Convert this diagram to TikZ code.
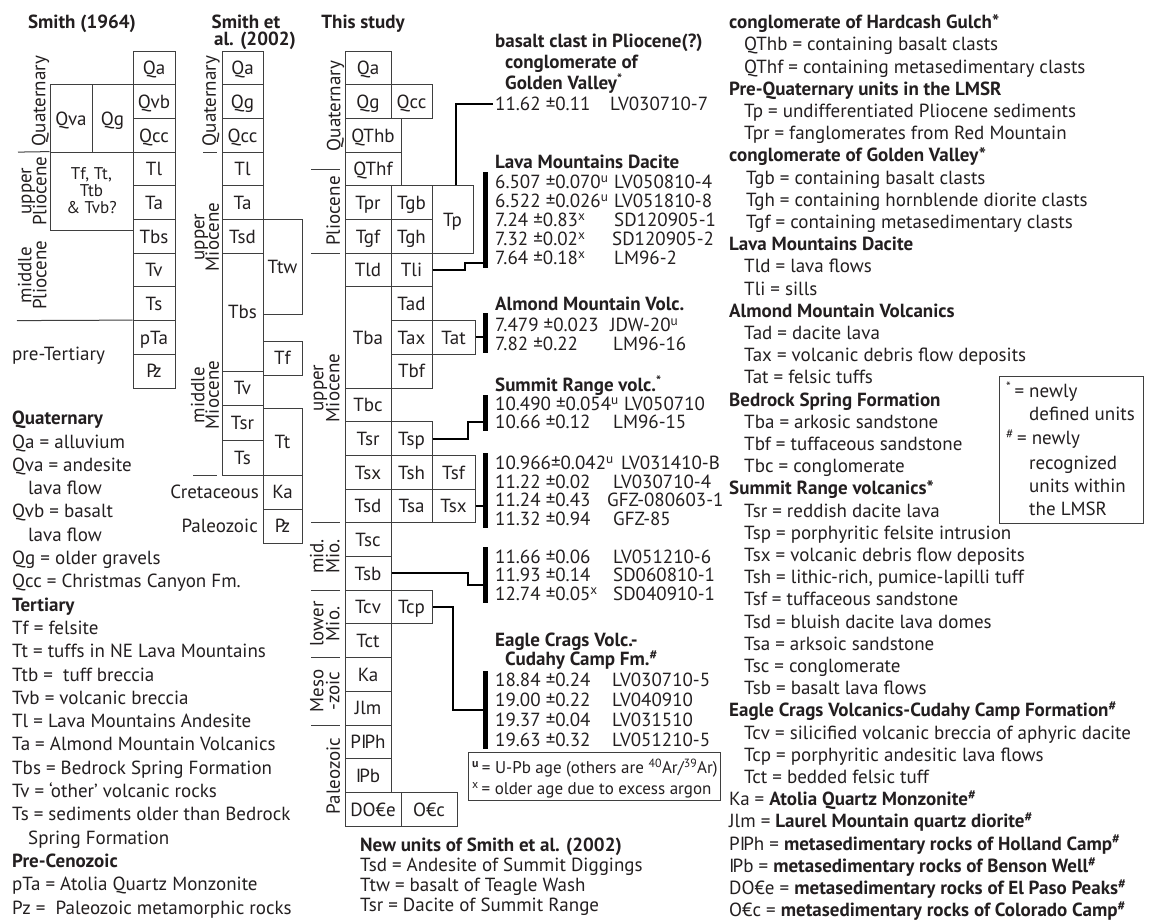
\documentclass[tikz,border=0pt]{standalone}
\usepackage{fontspec}
\setmainfont{PT Sans}
\usetikzlibrary{calc}
\definecolor{ink}{HTML}{231F20}
\definecolor{boxline}{HTML}{3F3F3F}
\newcommand{\penn}{I\kern-0.11em P}
\newcommand{\pzsym}{P\kern-0.2em z}
\newcommand{\su}[1]{\textsuperscript{#1}}
\begin{document}
\begin{tikzpicture}[x=1pt,y=-1pt,
  every node/.style={text=ink},
  fnt/.style={font=\fontsize{19}{20}\selectfont},
  cell/.style={fnt, draw=boxline, line width=1pt, inner sep=0pt, minimum height=33.7pt, text height=13.5pt, text depth=0pt},
  txt/.style={fnt, anchor=west, inner sep=0pt, text height=13.5pt, text depth=0pt},
  btxt/.style={txt, font=\fontsize{19}{20}\selectfont\bfseries},
  stxt/.style={txt, font=\fontsize{17}{18}\selectfont},
  ctxt/.style={fnt, anchor=center, inner sep=0pt, text height=13.5pt, text depth=0pt},
  sctxt/.style={anchor=center, inner sep=0pt, font=\fontsize{17}{18}\selectfont, text height=12pt, text depth=0pt},
  bctxt/.style={ctxt, font=\fontsize{19}{20}\selectfont\bfseries},
  rtxt/.style={ctxt, rotate=90},
  conn/.style={draw=black, line width=2pt},
  agebar/.style={fill=black, inner sep=0pt, minimum width=5pt},
  ln/.style={draw=boxline, line width=1pt},
  frame/.style={draw=boxline, line width=1pt, inner sep=0pt}
]
\fill[white] (0,0) rectangle (1164,921);
\useasboundingbox (0,0) rectangle (1164,921);

% ---------------- titles
\node[bctxt] (t64) at (82,22) {Smith (1964)};
\node[bctxt] (t02a) at (246,22) {Smith et};
\node[bctxt] (t02b) at (255,39) {al. (2002)};
\node[bctxt] (tts) at (363,22) {This study};

% ---------------- Smith (1964)
\node[cell, minimum width=42pt] (s64Qa)  at (154,67.85) {Qa};
\node[cell, minimum width=42pt] (s64Qvb) at (154,101.55) {Qvb};
\node[cell, minimum width=42pt] (s64Qcc) at (154,135.25) {Qcc};
\node[cell, minimum width=42pt] (s64Tl)  at (154,168.95) {Tl};
\node[cell, minimum width=42pt] (s64Ta)  at (154,202.65) {Ta};
\node[cell, minimum width=42pt] (s64Tbs) at (154,236.35) {Tbs};
\node[cell, minimum width=42pt] (s64Tv)  at (154,270.05) {Tv};
\node[cell, minimum width=42pt] (s64Ts)  at (154,303.75) {Ts};
\node[cell, minimum width=42pt] (s64pTa) at (154,337.45) {pTa};
\node[cell, minimum width=42pt] (s64Pz)  at (154,371.15) {\pzsym};
\node[cell, minimum width=42pt, minimum height=67.4pt] (s64Qva) at (71,118.4) {Qva};
\node[cell, minimum width=41pt, minimum height=67.4pt] (s64Qg) at (112.5,118.4) {Qg};
\node[cell, minimum width=83pt, minimum height=77.9pt] (s64Tf) at (91.5,191.05) {};
\node[sctxt] (s64Tf1) at (91.5,173) {Tf, Tt,};
\node[sctxt] (s64Tf2) at (91.5,190) {Ttb};
\node[sctxt] (s64Tf3) at (91.5,207) {\& Tvb?};
\draw[ln] (18,152.1) -- (s64Tf.north west);
\draw[ln] (17,320.6) -- (s64pTa.north west);
\node[rtxt] (e64q) at (38.5,101) {Quaternary};
\node[rtxt] (e64u1) at (24.5,191) {upper};
\node[rtxt] (e64u2) at (39.5,191) {Pliocene};
\node[rtxt] (e64m1) at (24.5,275) {middle};
\node[rtxt] (e64m2) at (39.5,275) {Pliocene};
\node[txt] (s64pre) at (12,354) {pre-Tertiary};

% ---------------- Smith et al. (2002)
\node[cell, minimum width=41pt] (saQa)  at (242.5,67.85) {Qa};
\node[cell, minimum width=41pt] (saQg)  at (242.5,101.55) {Qg};
\node[cell, minimum width=41pt] (saQcc) at (242.5,135.25) {Qcc};
\node[cell, minimum width=41pt] (saTl)  at (242.5,168.95) {Tl};
\node[cell, minimum width=41pt] (saTa)  at (242.5,202.65) {Ta};
\node[cell, minimum width=41pt] (saTsd) at (242.5,236.35) {Tsd};
\node[cell, minimum width=41pt, minimum height=117.8pt] (saTbs) at (242.5,312.1) {Tbs};
\node[cell, minimum width=41pt, minimum height=34pt] (saTv)  at (242.5,388) {Tv};
\node[cell, minimum width=41pt, minimum height=35pt] (saTsr) at (242.5,422.5) {Tsr};
\node[cell, minimum width=41pt, minimum height=35pt] (saTs)  at (242.5,457.5) {Ts};
\node[cell, minimum width=39pt, minimum height=94.5pt] (saTtw) at (282.5,266.75) {Ttw};
\node[cell, minimum width=39pt, minimum height=34pt] (saTf) at (282.5,358) {Tf};
\node[cell, minimum width=39pt, minimum height=67pt] (saTt) at (282.5,441.5) {Tt};
\node[cell, minimum width=39pt, minimum height=34pt] (saKa) at (282.5,492) {Ka};
\node[cell, minimum width=39pt, minimum height=34pt] (saPz) at (282.5,526) {\pzsym};
\node[fnt, anchor=east, inner sep=0pt, text height=13.5pt, text depth=0pt] (saCret) at (259,492) {Cretaceous};
\node[fnt, anchor=east, inner sep=0pt, text height=13.5pt, text depth=0pt] (saPal) at (258,526) {Paleozoic};
\draw[ln] (203,152.1) -- (217,152.1);
\draw[ln] (193,475) -- (217,475);
\node[rtxt] (e02q) at (209,101) {Quaternary};
\node[rtxt] (e02u1) at (197.5,237) {upper};
\node[rtxt] (e02u2) at (212,237) {Miocene};
\node[rtxt] (e02m1) at (197.5,395) {middle};
\node[rtxt] (e02m2) at (212,395) {Miocene};

% ---------------- This study
\node[cell, minimum width=46pt] (tsQa) at (368,67.85) {Qa};
\node[cell, minimum width=46pt] (tsQg) at (368,101.55) {Qg};
\node[cell, minimum width=41pt] (tsQcc) at (411.5,101.55) {Qcc};
\node[cell, minimum width=56pt] (tsQThb) at (373,135.25) {QThb};
\node[cell, minimum width=56pt] (tsQThf) at (373,168.95) {QThf};
\node[cell, minimum width=46pt] (tsTpr) at (368,202.65) {Tpr};
\node[cell, minimum width=41pt] (tsTgb) at (411.5,202.65) {Tgb};
\node[cell, minimum width=41pt, minimum height=67.4pt] (tsTp) at (452.5,219.5) {Tp};
\node[cell, minimum width=46pt] (tsTgf) at (368,236.35) {Tgf};
\node[cell, minimum width=41pt] (tsTgh) at (411.5,236.35) {Tgh};
\node[cell, minimum width=46pt] (tsTld) at (368,270.05) {Tld};
\node[cell, minimum width=41pt] (tsTli) at (411.5,270.05) {Tli};
\node[cell, minimum width=46pt, minimum height=101.1pt] (tsTba) at (368,337.45) {Tba};
\node[cell, minimum width=41pt] (tsTad) at (411.5,303.75) {Tad};
\node[cell, minimum width=41pt] (tsTax) at (411.5,337.45) {Tax};
\node[cell, minimum width=41pt] (tsTbf) at (411.5,371.15) {Tbf};
\node[cell, minimum width=43pt] (tsTat) at (453.5,337.45) {Tat};
\node[cell, minimum width=46pt] (tsTbc) at (368,404.85) {Tbc};
\node[cell, minimum width=46pt] (tsTsr) at (368,438.55) {Tsr};
\node[cell, minimum width=41pt] (tsTsp) at (411.5,438.55) {Tsp};
\node[cell, minimum width=46pt] (tsTsx) at (368,472.25) {Tsx};
\node[cell, minimum width=41pt] (tsTsh) at (411.5,472.25) {Tsh};
\node[cell, minimum width=43pt] (tsTsf) at (453.5,472.25) {Tsf};
\node[cell, minimum width=46pt] (tsTsd) at (368,505.95) {Tsd};
\node[cell, minimum width=41pt] (tsTsa) at (411.5,505.95) {Tsa};
\node[cell, minimum width=43pt] (tsTsxb) at (453.5,505.95) {Tsx};
\node[cell, minimum width=46pt] (tsTsc) at (368,539.65) {Tsc};
\node[cell, minimum width=46pt] (tsTsb) at (368,573.35) {Tsb};
\node[cell, minimum width=46pt] (tsTcv) at (368,607.05) {Tcv};
\node[cell, minimum width=41pt] (tsTcp) at (411.5,607.05) {Tcp};
\node[cell, minimum width=46pt] (tsTct) at (368,640.75) {Tct};
\node[cell, minimum width=46pt] (tsKa) at (368,674.45) {Ka};
\node[cell, minimum width=46pt] (tsJlm) at (368,708.15) {Jlm};
\node[cell, minimum width=46pt] (tsPPh) at (368,741.85) {P\penn h};
\node[cell, minimum width=46pt] (tsPb) at (368,775.55) {\penn b};
\node[cell, minimum width=56pt] (tsDOCe) at (373,809.25) {DO€e};
\node[cell, minimum width=56pt] (tsOCc) at (429,809.25) {O€c};

\foreach \yy in {169,253.2,522.8,590.2,657.6,725} {\draw[ln] (311,\yy) -- (340,\yy);}
\node[rtxt] (etQ) at (333.5,106) {Quaternary};
\node[rtxt] (etP) at (333,211) {Pliocene};
\node[rtxt] (etU1) at (316.5,388) {upper};
\node[rtxt] (etU2) at (332.5,388) {Miocene};
\node[rtxt] (etM1) at (316.5,556.5) {mid.};
\node[rtxt] (etM2) at (332.5,556.5) {Mio.};
\node[rtxt] (etL1) at (316.5,624) {lower};
\node[rtxt] (etL2) at (332.5,624) {Mio.};
\node[rtxt] (etZ1) at (316.5,691) {Meso};
\node[rtxt] (etZ2) at (332.5,691) {-zoic};
\node[rtxt] (etPz) at (333,776) {Paleozoic};

% ---------------- ages
\node[btxt] (gvT1) at (495,41) {basalt clast in Pliocene(?)};
\node[btxt] (gvT2) at (505,62) {conglomerate of};
\node[btxt] (gvT3) at (505,83) {Golden Valley\su{*}};
\node[txt] (gvA) at (495,104) {11.62 ±0.11};
\node[txt] (gvS) at (610,104) {LV030710-7};

\node[btxt] (lmT) at (495,162) {Lava Mountains Dacite};
\node[txt] (lmA1) at (495,182) {6.507 ±0.070\su{u}};
\node[txt] (lmS1) at (614,182) {LV050810-4};
\node[txt] (lmA2) at (495,201) {6.522 ±0.026\su{u}};
\node[txt] (lmS2) at (614,201) {LV051810-8};
\node[txt] (lmA3) at (495,220) {7.24 ±0.83\su{x}};
\node[txt] (lmS3) at (614,220) {SD120905-1};
\node[txt] (lmA4) at (495,239) {7.32 ±0.02\su{x}};
\node[txt] (lmS4) at (612,239) {SD120905-2};
\node[txt] (lmA5) at (495,258) {7.64 ±0.18\su{x}};
\node[txt] (lmS5) at (614,258) {LM96-2};
\node[agebar, minimum height=96pt] (barLM) at (485.5,219.5) {};

\node[btxt] (amT) at (495,304) {Almond Mountain Volc.};
\node[txt] (amA1) at (495,325) {7.479 ±0.023};
\node[txt] (amS1) at (610,325) {JDW-20\su{u}};
\node[txt] (amA2) at (495,344) {7.82 ±0.22};
\node[txt] (amS2) at (613,344) {LM96-16};
\node[agebar, minimum height=40pt] (barAM) at (485.5,333) {};

\node[btxt] (srT) at (495,385) {Summit Range volc.\su{*}};
\node[txt] (srA1) at (495,404) {10.490 ±0.054\su{u}};
\node[txt] (srS1) at (624,404) {LV050710};
\node[txt] (srA2) at (495,422) {10.66 ±0.12};
\node[txt] (srS2) at (613,422) {LM96-15};
\node[agebar, minimum height=36pt] (barSR) at (485.5,413) {};

\node[txt] (sxA1) at (495,463) {10.966±0.042\su{u}};
\node[txt] (sxS1) at (621,463) {LV031410-B};
\node[txt] (sxA2) at (495,482) {11.22 ±0.02};
\node[txt] (sxS2) at (613,482) {LV030710-4};
\node[txt] (sxA3) at (495,500) {11.24 ±0.43};
\node[txt] (sxS3) at (607,500) {GFZ-080603-1};
\node[txt] (sxA4) at (495,519) {11.32 ±0.94};
\node[txt] (sxS4) at (613,519) {GFZ-85};
\node[agebar, minimum height=75pt] (barSX) at (485.5,490.5) {};

\node[txt] (sbA1) at (495,557) {11.66 ±0.06};
\node[txt] (sbS1) at (613,557) {LV051210-6};
\node[txt] (sbA2) at (495,575) {11.93 ±0.14};
\node[txt] (sbS2) at (613,575) {SD060810-1};
\node[txt] (sbA3) at (495,594) {12.74 ±0.05\su{x}};
\node[txt] (sbS3) at (613,594) {SD040910-1};
\node[agebar, minimum height=56pt] (barSB) at (485.5,575) {};

\node[btxt] (ecT1) at (495,640) {Eagle Crags Volc.-};
\node[btxt] (ecT2) at (505,659) {Cudahy Camp Fm.\su{\#}};
\node[txt] (ecA1) at (495,680) {18.84 ±0.24};
\node[txt] (ecS1) at (612,680) {LV030710-5};
\node[txt] (ecA2) at (495,700) {19.00 ±0.22};
\node[txt] (ecS2) at (612,700) {LV040910};
\node[txt] (ecA3) at (495,720) {19.37 ±0.04};
\node[txt] (ecS3) at (612,720) {LV031510};
\node[txt] (ecA4) at (495,740) {19.63 ±0.32};
\node[txt] (ecS4) at (612,740) {LV051210-5};
\node[agebar, minimum height=78pt] (barEC) at (485.5,710) {};

% connectors
\coordinate (kLM) at (465,263);
\coordinate (kSR) at (468,422);
\coordinate (kSB) at (468,585);
\coordinate (kEC) at (453,710);
\draw[conn, shorten >=2pt] (tsTp.north) ++(3,0) |- (gvA.west);
\draw[conn] (tsTli.east) -| (kLM) -- (kLM -| barLM.west);
\draw[conn] (tsTat.east) -- (tsTat.east -| barAM.west);
\draw[conn] (tsTsp.east) -| (kSR) -- (kSR -| barSR.west);
\draw[conn] (tsTsxb.east) -- (tsTsxb.east -| barSX.west);
\draw[conn] (tsTsb.east) -| (kSB) -- (kSB -| barSB.west);
\draw[conn] (tsTcp.east) -| (kEC) -- (kEC -| barEC.west);

% legend (ages)
\node[frame, minimum width=252pt, minimum height=48pt] (legA) at (594,776) {};
\node[stxt] (legA1) at (472,767) {\su{\textbf{u}}\,= U-Pb age (others are \su{40}Ar/\su{39}Ar)};
\node[stxt] (legA2) at (472,788) {\su{x}\,= older age due to excess argon};

% new units
\node[btxt] (n0) at (360,845) {New units of Smith et al. (2002)};
\node[txt] (n1) at (360,865) {Tsd = Andesite of Summit Diggings};
\node[txt] (n2) at (360,885) {Ttw = basalt of Teagle Wash};
\node[txt] (n3) at (360,905) {Tsr = Dacite of Summit Range};

% ---------------- left text
\node[btxt] (l0) at (12,418) {Quaternary};
\node[txt] (l1) at (12,441.3) {Qa = alluvium};
\node[txt] (l2) at (12,464.6) {Qva = andesite};
\node[txt] (l3) at (28,487.9) {lava flow};
\node[txt] (l4) at (12,511.2) {Qvb = basalt};
\node[txt] (l5) at (28,534.5) {lava flow};
\node[txt] (l6) at (12,557.8) {Qg = older gravels};
\node[txt] (l7) at (12,581.1) {Qcc = Christmas Canyon Fm.};
\node[btxt] (l8) at (12,604.4) {Tertiary};
\node[txt] (l9) at (12,627.7) {Tf = felsite};
\node[txt] (l10) at (12,651) {Tt = tuffs in NE Lava Mountains};
\node[txt] (l11) at (12,674.3) {Ttb = \ tuff breccia};
\node[txt] (l12) at (12,697.6) {Tvb = volcanic breccia};
\node[txt] (l13) at (12,720.9) {Tl = Lava Mountains Andesite};
\node[txt] (l14) at (12,744.2) {Ta = Almond Mountain Volcanics};
\node[txt] (l15) at (12,767.5) {Tbs = Bedrock Spring Formation};
\node[txt] (l16) at (12,790.8) {Tv = ‘other’ volcanic rocks};
\node[txt] (l17) at (12,814.1) {Ts = sediments older than Bedrock};
\node[txt] (l18) at (28,837.4) {Spring Formation};
\node[btxt] (l19) at (12,860.7) {Pre-Cenozoic};
\node[txt] (l20) at (12,884) {pTa = Atolia Quartz Monzonite};
\node[txt] (l21) at (12,907.3) {Pz = \ Paleozoic metamorphic rocks};

% ---------------- right text
\node[btxt] (r0) at (729,22.0) {conglomerate of Hardcash Gulch*};
\node[txt] (r1) at (744,44.2) {QThb = containing basalt clasts};
\node[txt] (r2) at (744,66.4) {QThf = containing metasedimentary clasts};
\node[btxt] (r3) at (729,88.6) {Pre-Quaternary units in the LMSR};
\node[txt] (r4) at (744,110.8) {Tp = undifferentiated Pliocene sediments};
\node[txt] (r5) at (744,133.0) {Tpr = fanglomerates from Red Mountain};
\node[btxt] (r6) at (729,155.2) {conglomerate of Golden Valley*};
\node[txt] (r7) at (746,177.4) {Tgb = containing basalt clasts};
\node[txt] (r8) at (746,199.6) {Tgh = containing hornblende diorite clasts};
\node[txt] (r9) at (746,221.8) {Tgf = containing metasedimentary clasts};
\node[btxt] (r10) at (729,244.0) {Lava Mountains Dacite};
\node[txt] (r11) at (744,266.2) {Tld = lava flows};
\node[txt] (r12) at (744,288.4) {Tli = sills};
\node[btxt] (r13) at (729,310.6) {Almond Mountain Volcanics};
\node[txt] (r14) at (744,332.8) {Tad = dacite lava};
\node[txt] (r15) at (744,355.0) {Tax = volcanic debris flow deposits};
\node[txt] (r16) at (744,377.2) {Tat = felsic tuffs};
\node[btxt] (r17) at (729,399.4) {Bedrock Spring Formation};
\node[txt] (r18) at (744,421.6) {Tba = arkosic sandstone};
\node[txt] (r19) at (744,443.8) {Tbf = tuffaceous sandstone};
\node[txt] (r20) at (744,466.0) {Tbc = conglomerate};
\node[btxt] (r21) at (729,488.2) {Summit Range volcanics*};
\node[txt] (r22) at (744,510.4) {Tsr = reddish dacite lava};
\node[txt] (r23) at (744,532.6) {Tsp = porphyritic felsite intrusion};
\node[txt] (r24) at (744,554.8) {Tsx = volcanic debris flow deposits};
\node[txt] (r25) at (744,577.0) {Tsh = lithic-rich, pumice-lapilli tuff};
\node[txt] (r26) at (744,599.2) {Tsf = tuffaceous sandstone};
\node[txt] (r27) at (744,621.4) {Tsd = bluish dacite lava domes};
\node[txt] (r28) at (744,643.6) {Tsa = arksoic sandstone};
\node[txt] (r29) at (744,665.8) {Tsc = conglomerate};
\node[txt] (r30) at (744,688.0) {Tsb = basalt lava flows};
\node[btxt] (r31) at (729,710.2) {Eagle Crags Volcanics-Cudahy Camp Formation\su{\#}};
\node[txt] (r32) at (744,732.4) {Tcv = silicified volcanic breccia of aphyric dacite};
\node[txt] (r33) at (744,754.6) {Tcp = porphyritic andesitic lava flows};
\node[txt] (r34) at (744,776.8) {Tct = bedded felsic tuff};
\node[txt] (r35) at (729,799.0) {Ka = \textbf{Atolia Quartz Monzonite}\su{\textbf{\#}}};
\node[txt] (r36) at (729,821.2) {Jlm = \textbf{Laurel Mountain quartz diorite}\su{\textbf{\#}}};
\node[txt] (r37) at (729,843.4) {P\penn h = \textbf{metasedimentary rocks of Holland Camp}\su{\textbf{\#}}};
\node[txt] (r38) at (729,865.6) {\penn b = \textbf{metasedimentary rocks of Benson Well}\su{\textbf{\#}}};
\node[txt] (r39) at (729,887.8) {DO€e = \textbf{metasedimentary rocks of El Paso Peaks}\su{\textbf{\#}}};
\node[txt] (r40) at (729,910.0) {O€c = \textbf{metasedimentary rocks of Colorado Camp}\su{\textbf{\#}}};

% legend (new units)
\node[frame, minimum width=144pt, minimum height=147pt] (legB) at (1071,449.5) {};
\node[txt] (legB1) at (1006,391) {\su{*}\,= newly};
\node[txt] (legB2) at (1029,414) {defined units};
\node[txt] (legB3) at (1006,438) {\su{\#}\,= newly};
\node[txt] (legB4) at (1029,463) {recognized};
\node[txt] (legB5) at (1029,486) {units within};
\node[txt] (legB6) at (1029,509) {the LMSR};
\end{tikzpicture}
\end{document}
